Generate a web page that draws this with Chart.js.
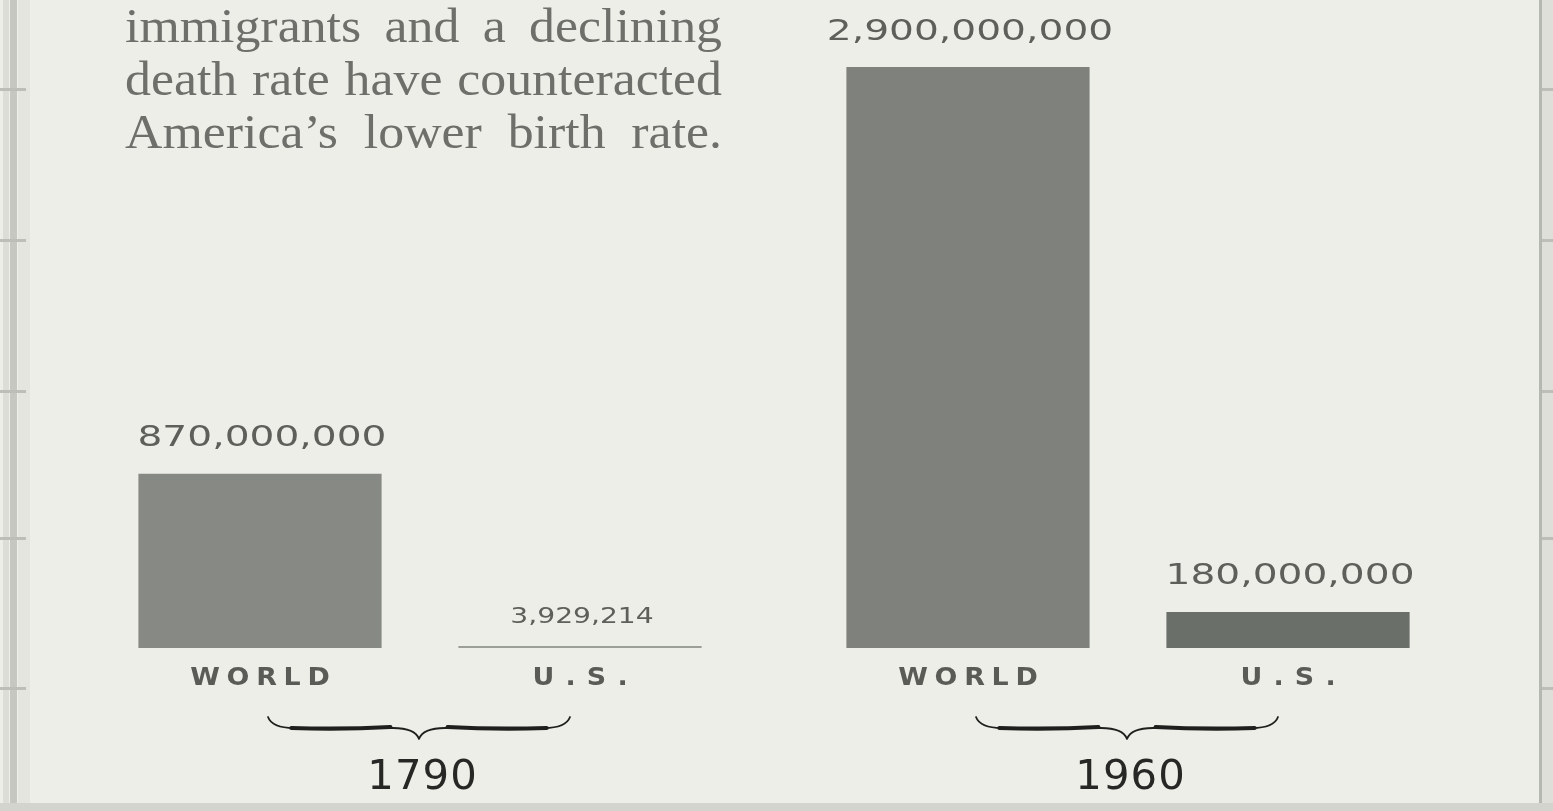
<!DOCTYPE html>
<html>
<head>
<meta charset="utf-8">
<title>World and U.S. population, 1790 and 1960</title>
<script src="https://cdn.jsdelivr.net/npm/chart.js@4.4.1/dist/chart.umd.min.js"></script>
<style>
  html, body { margin: 0; padding: 0; background: #eeeee8; overflow: hidden; }
  #wrap { position: relative; width: 1553px; height: 811px; }
  canvas { display: block; }
</style>
</head>
<body>
<div id="wrap"><canvas id="chart" width="1553" height="811"></canvas></div>
<script>
// ---- data ----
const years = ['1790', '1960'];
const seriesNames = ['WORLD', 'U.S.'];
const worldPopulation = [870000000, 2900000000];
const usPopulation = [3929214, 180000000];
const captionLines = [
  'immigrants and a declining',
  'death rate have counteracted',
  'America\u2019s lower birth rate.'
];

// ---- drawing helpers ----
function drawSpaced(ctx, text, cx, cy, o) {
  ctx.save();
  ctx.font = (o.weight || 'normal') + ' ' + o.size + 'px ' + o.family;
  const sp = o.spacing || 0;
  ctx.letterSpacing = sp + 'px';
  ctx.fillStyle = o.color;
  ctx.textBaseline = 'middle';
  ctx.textAlign = 'left';
  const w = ctx.measureText(text).width - sp;
  ctx.translate(cx, cy);
  ctx.scale(o.sx || 1, 1);
  ctx.fillText(text, -w / 2, 0);
  ctx.restore();
}

// horizontal curly brace opening upward, tip pointing down
function drawBrace(ctx, x1, x2, y0, depth) {
  const xm = (x1 + x2) / 2;
  const ym = y0 + depth / 2;
  const q = 26;
  ctx.save();
  ctx.strokeStyle = '#1f201d';
  ctx.lineCap = 'round';
  ctx.lineJoin = 'round';
  // thin outline of the whole brace
  ctx.lineWidth = 1.8;
  ctx.beginPath();
  ctx.moveTo(x1, y0);
  ctx.quadraticCurveTo(x1 + 4, ym, x1 + q, ym);
  ctx.lineTo(xm - q, ym);
  ctx.quadraticCurveTo(xm - 4, ym, xm, y0 + depth);
  ctx.quadraticCurveTo(xm + 4, ym, xm + q, ym);
  ctx.lineTo(x2 - q, ym);
  ctx.quadraticCurveTo(x2 - 4, ym, x2, y0);
  ctx.stroke();
  // heavier, slightly waved middle strokes
  ctx.lineWidth = 4.2;
  ctx.beginPath();
  ctx.moveTo(x1 + q * 0.9, ym);
  ctx.quadraticCurveTo((x1 + xm) / 2, ym + 1.5, xm - q * 1.1, ym - 1);
  ctx.moveTo(xm + q * 1.1, ym - 1);
  ctx.quadraticCurveTo((x2 + xm) / 2, ym + 1.5, x2 - q * 0.9, ym);
  ctx.stroke();
  ctx.restore();
}

// ---- plugins ----
const framePlugin = {
  id: 'frame',
  beforeDraw(chart) {
    const ctx = chart.ctx;
    const W = chart.width, H = chart.height;
    ctx.save();
    ctx.fillStyle = '#eeeee8';
    ctx.fillRect(0, 0, W, H);
    // page edges
    ctx.fillStyle = '#dcddd7';
    ctx.fillRect(3, 0, 6, H);
    ctx.fillStyle = '#c6c7c1';
    ctx.fillRect(10, 0, 7, H);
    ctx.fillStyle = '#e4e5df';
    ctx.fillRect(18, 0, 12, H);
    ctx.fillStyle = '#b5b7b1';
    ctx.fillRect(1539, 0, 3, H);
    ctx.fillStyle = '#dedfd9';
    ctx.fillRect(1542, 0, 11, H);
    ctx.fillStyle = '#d3d4ce';
    ctx.fillRect(0, 803, W, 8);
    // edge tick marks
    ctx.fillStyle = '#bdbeb8';
    [88, 239, 390, 537, 687].forEach(function (y) {
      ctx.fillRect(0, y, 26, 3);
      ctx.fillRect(1542, y, 11, 3);
    });
    ctx.restore();
  }
};

const captionPlugin = {
  id: 'caption',
  afterDraw(chart) {
    const ctx = chart.ctx;
    const left = 125, right = 722;
    const baselines = [42, 95, 148];
    const sx = 1.08;
    ctx.save();
    ctx.font = '48px "Liberation Serif", "Times New Roman", serif';
    ctx.fillStyle = '#6e6f6a';
    ctx.textBaseline = 'alphabetic';
    captionLines.forEach(function (line, i) {
      const words = line.split(' ');
      const widths = words.map(function (w) { return ctx.measureText(w).width * sx; });
      const total = widths.reduce(function (a, b) { return a + b; }, 0);
      const gap = (right - left - total) / (words.length - 1);
      let x = left;
      words.forEach(function (w, k) {
        ctx.save();
        ctx.translate(x, baselines[i]);
        ctx.scale(sx, 1);
        ctx.fillText(w, 0, 0);
        ctx.restore();
        x += widths[k] + gap;
      });
    });
    ctx.restore();
  }
};

const labelPlugin = {
  id: 'barLabels',
  afterDatasetsDraw(chart) {
    const ctx = chart.ctx;
    const xScale = chart.scales.x;
    const font = '"DejaVu Sans", sans-serif';
    chart.data.datasets.forEach(function (ds, di) {
      const meta = chart.getDatasetMeta(di);
      meta.data.forEach(function (bar, j) {
        const value = ds.data[j];
        const small = value < 10000000;
        // value above each bar
        drawSpaced(ctx, value.toLocaleString('en-US'), bar.x + 2, bar.y - (small ? 29 : 35), {
          size: small ? 22 : 29, family: font, color: '#5e5f5a',
          sx: small ? 1.28 : 1.35, spacing: 0
        });
        // series name under each bar
        drawSpaced(ctx, seriesNames[di], bar.x, 679, {
          size: 24, family: font, weight: 'bold', color: '#5a5b57',
          sx: 1.12, spacing: di === 0 ? 6 : 10
        });
      });
    });
    // braces and years under each group
    years.forEach(function (yr, j) {
      const cx = xScale.getPixelForValue(j);
      drawBrace(ctx, cx - 152, cx + 150, 717, 22);
      drawSpaced(ctx, yr, cx + 2, 778, {
        size: 41, family: font, color: '#272825', sx: 1.02, spacing: 1
      });
    });
  }
};

// ---- chart ----
new Chart(document.getElementById('chart').getContext('2d'), {
  type: 'bar',
  data: {
    labels: years,
    datasets: [
      {
        label: seriesNames[0],
        data: worldPopulation,
        backgroundColor: ['#878a84', '#7f827c'],
        borderWidth: 0
      },
      {
        label: seriesNames[1],
        data: usPopulation,
        backgroundColor: ['#9c9e98', '#6b6f69'],
        borderWidth: 0,
        minBarLength: 2
      }
    ]
  },
  options: {
    responsive: false,
    animation: false,
    devicePixelRatio: 1,
    layout: { padding: { left: 66, right: 71, top: 7, bottom: 163 } },
    datasets: { bar: { categoryPercentage: 0.904, barPercentage: 0.76 } },
    scales: {
      x: { display: false },
      y: { display: false, min: 0, max: 3200000000 }
    },
    plugins: {
      legend: { display: false },
      tooltip: { enabled: false }
    }
  },
  plugins: [framePlugin, labelPlugin, captionPlugin]
});
</script>
</body>
</html>
